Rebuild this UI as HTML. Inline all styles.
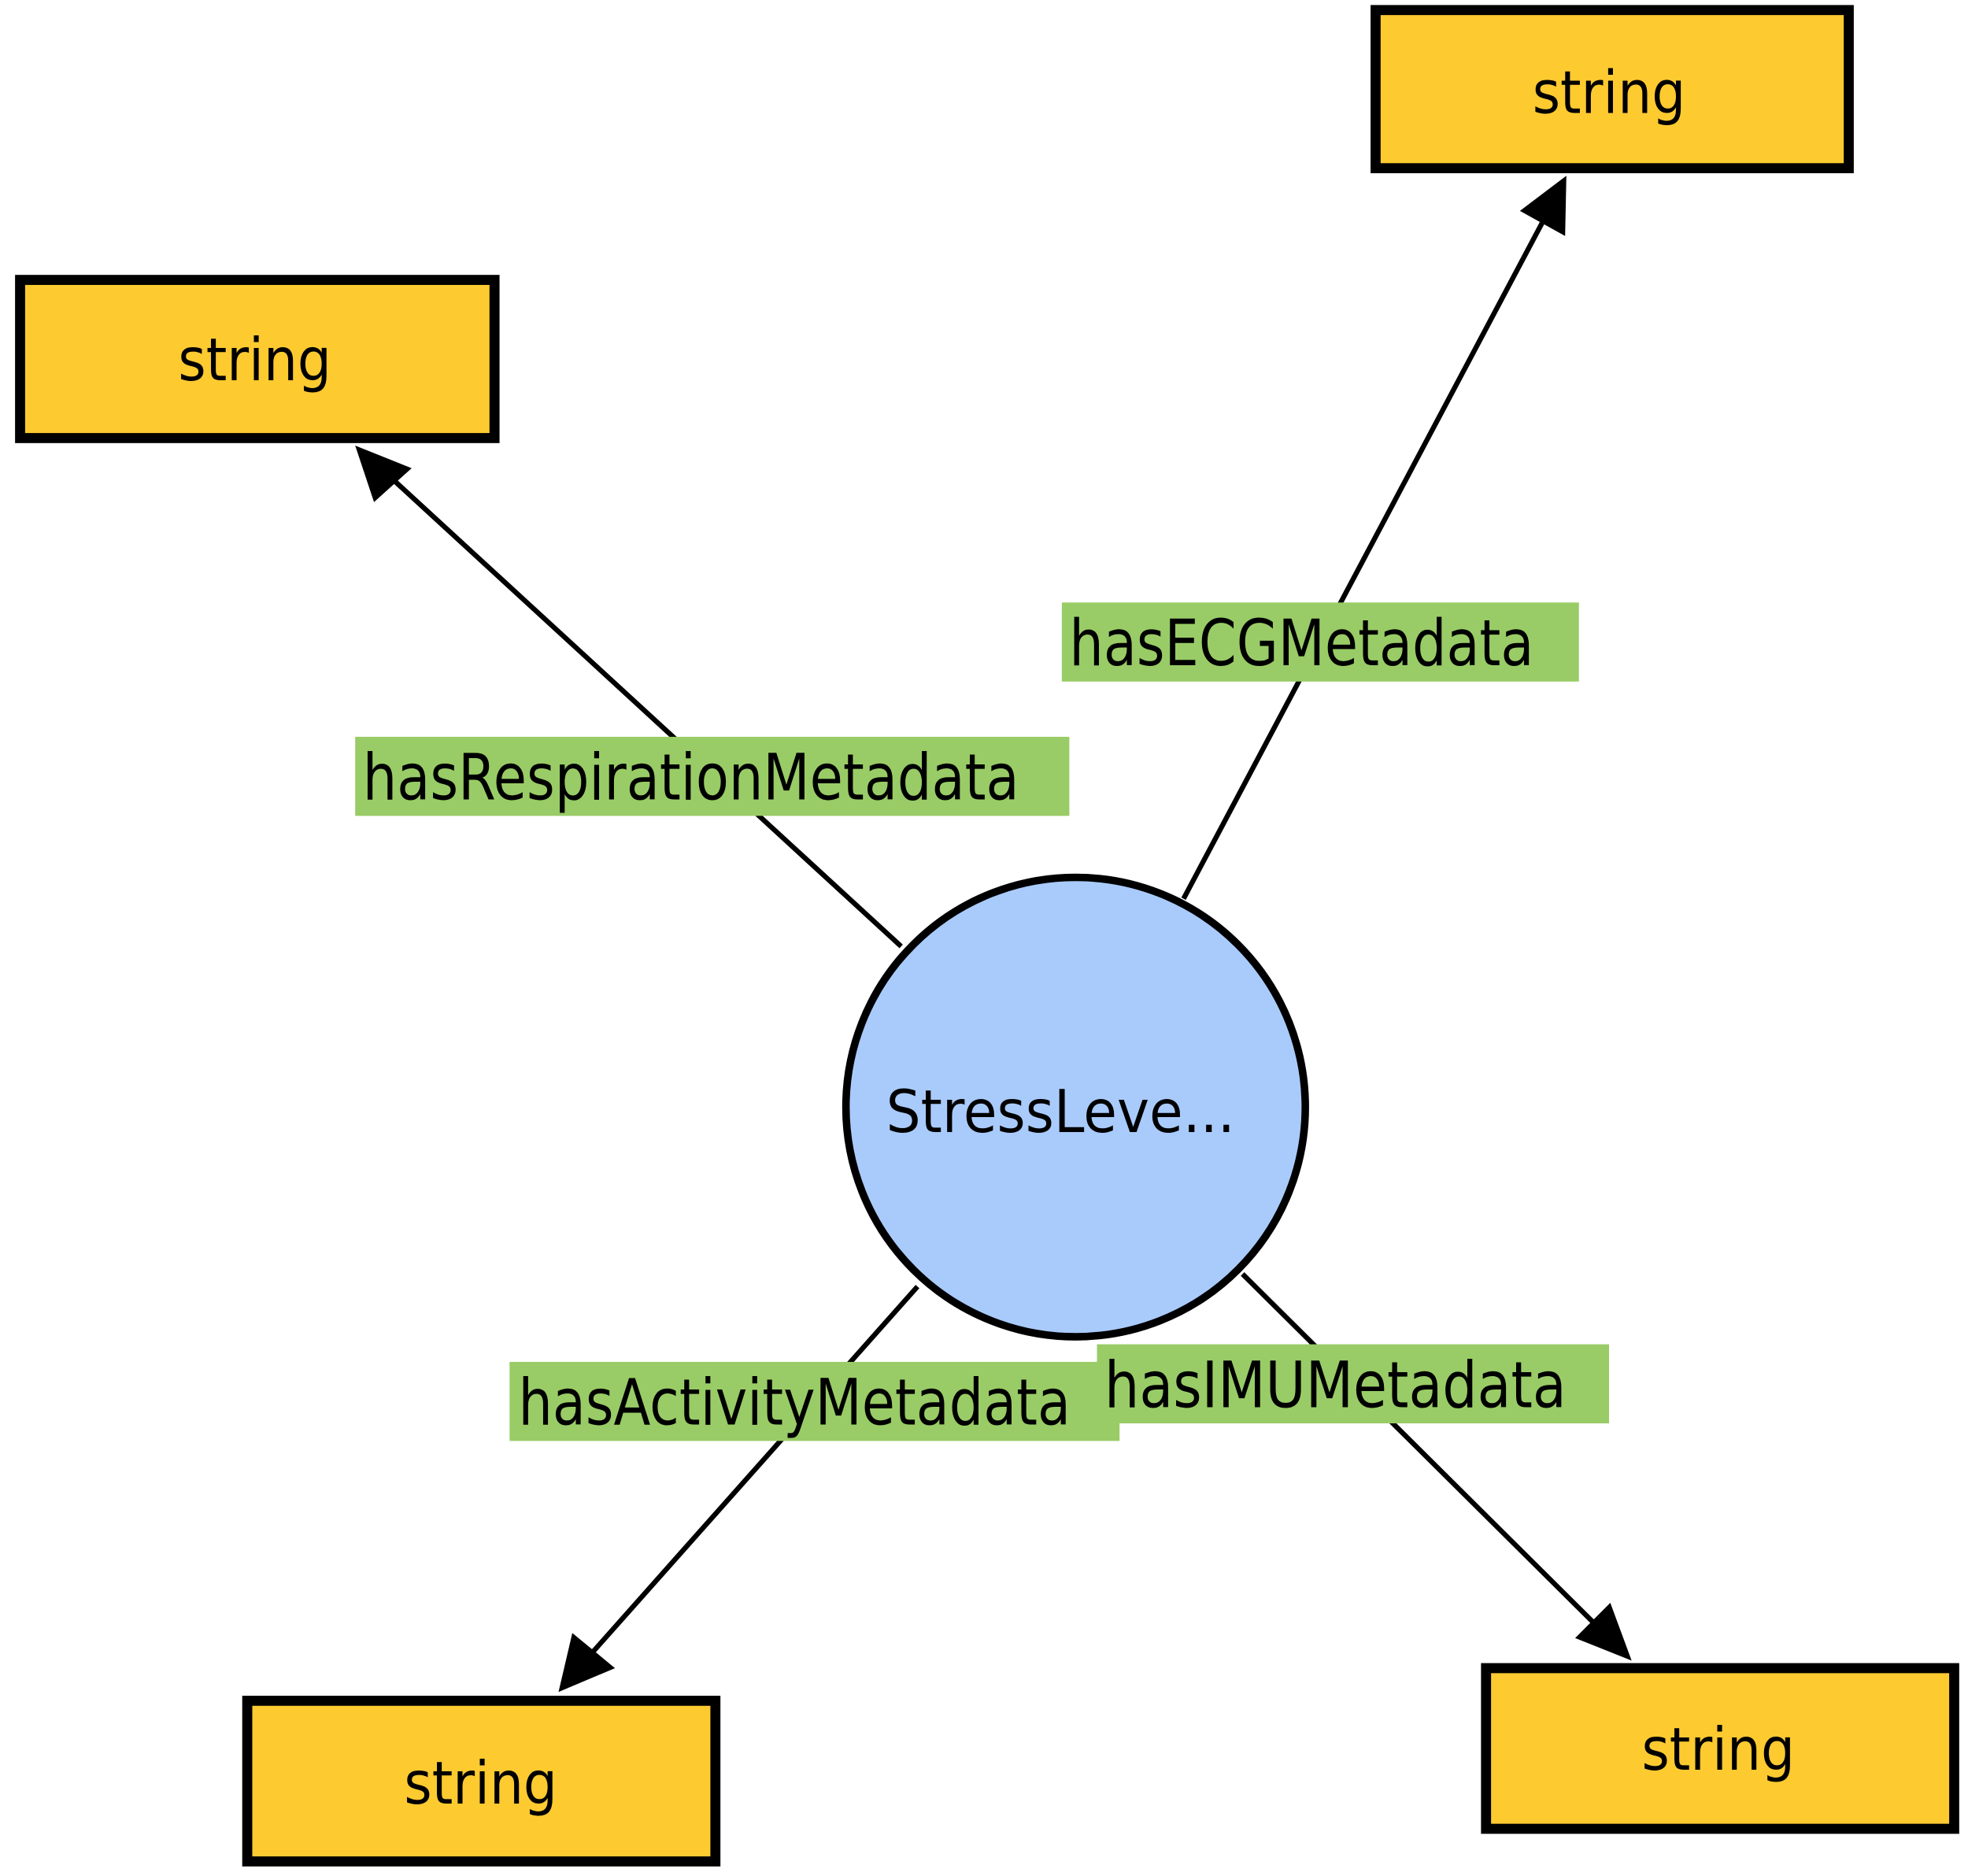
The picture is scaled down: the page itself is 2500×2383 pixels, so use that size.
<!DOCTYPE html>
<html><head><meta charset="utf-8"><style>html,body{margin:0;padding:0;background:#fff}svg{display:block}</style></head>
<body>
<svg width="2500" height="2383" viewBox="0 0 1568 1494.6" xmlns="http://www.w3.org/2000/svg" font-family="'DejaVu Sans','Liberation Sans',sans-serif">
<rect width="1568" height="1494.6" fill="#fff"/>
<g stroke="#000" stroke-width="4">
<line x1="718" y1="754" x2="300" y2="370"/>
<line x1="943" y1="716" x2="1238" y2="160"/>
<line x1="731" y1="1025" x2="460" y2="1330"/>
<line x1="990" y1="1015" x2="1284" y2="1307"/>
</g>
<g fill="#000">
<polygon points="283,355 328,373 298,400"/>
<polygon points="1248,140 1247,188 1211,168"/>
<polygon points="445,1348 456,1301 490,1329"/>
<polygon points="1300,1323 1255,1305 1283,1277"/>
</g>
<g fill="#fdca30" stroke="#000" stroke-width="8">
<rect x="16" y="223" width="378" height="126"/>
<rect x="1096" y="8" width="377" height="126"/>
<rect x="197" y="1355" width="373" height="128"/>
<rect x="1184" y="1329" width="373" height="128"/>
</g>
<circle cx="857" cy="882" r="183" fill="#a9cbfb" stroke="#000" stroke-width="6"/>
<g font-size="47" fill="#000" text-anchor="middle">
<text x="203" y="303" textLength="122" lengthAdjust="spacingAndGlyphs">string</text>
<text x="1282" y="90" textLength="122" lengthAdjust="spacingAndGlyphs">string</text>
<text x="383" y="1437" textLength="122" lengthAdjust="spacingAndGlyphs">string</text>
<text x="1369" y="1410" textLength="122" lengthAdjust="spacingAndGlyphs">string</text>
<text x="845" y="902" textLength="278" lengthAdjust="spacingAndGlyphs">StressLeve...</text>
</g>
<g fill="#99cc66">
<rect x="283" y="587" width="569" height="63"/>
<rect x="846" y="480" width="412" height="63"/>
<rect x="406" y="1085" width="486" height="63"/>
<rect x="874" y="1071" width="408" height="63"/>
</g>
<g font-size="51" fill="#000">
<text x="289" y="637" textLength="523" lengthAdjust="spacingAndGlyphs">hasRespirationMetadata</text>
<text x="852" y="530" textLength="370" lengthAdjust="spacingAndGlyphs">hasECGMetadata</text>
<text x="413" y="1135" textLength="440" lengthAdjust="spacingAndGlyphs">hasActivityMetadata</text>
<text x="880" y="1121" textLength="368" lengthAdjust="spacingAndGlyphs">hasIMUMetadata</text>
</g>
</svg>
</body></html>
